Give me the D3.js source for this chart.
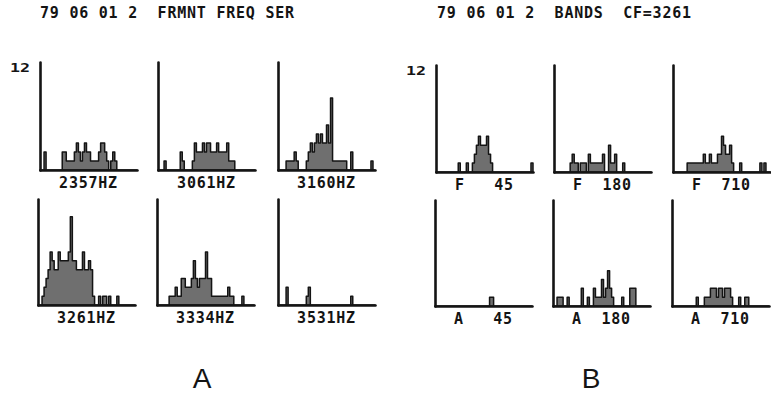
<!DOCTYPE html>
<html>
<head>
<meta charset="utf-8">
<script src="https://cdn.jsdelivr.net/npm/d3@7"></script>
<style>
  body { margin: 0; background: #fff; }
  text { white-space: pre; }
</style>
</head>
<body>
<svg id="chart" width="771" height="393"></svg>
<script>
// Count scale shared by every histogram (top of axis = 12)
const maxCount = 12;
const nBins = 48;

// Group A: formant frequency series, one histogram per centre frequency
const labelsA = ["2357HZ", "3061HZ", "3160HZ", "3261HZ", "3334HZ", "3531HZ"];
const hz2357 = [0,0,2,0,0,0,0,0,0,0, 0,2,2,1,1,1,1,2,3,2, 1,2,3,2,2,1,1,1,1,2, 3,3,2,1,0,1,2,1,0,0, 0,0,0,0,0,0,0,0];
const hz3061 = [0,0,0,1,0,0,0,0,0,0, 0,2,1,0,0,0,0,1,3,2, 2,2,3,2,3,3,2,2,2,3, 2,2,2,2,3,1,1,1,0,0, 0,0,0,0,0,0,0,0];
const hz3160 = [0,0,0,0,1,1,1,1,2,1, 0,0,0,0,1,2,3,2,3,4, 3,4,3,3,5,3,8,1,1,1, 1,1,1,1,0,0,2,0,0,0, 0,0,0,0,0,0,1,0];
const hz3261 = [0,0,1,2,3,4,6,5,4,4, 6,5,5,5,5,6,10,5,5,4, 4,4,6,4,4,5,4,1,0,0, 1,0,1,1,0,1,0,0,0,1, 0,0,0,0,0,0,0,0];
const hz3334 = [0,0,0,0,0,0,1,1,1,2, 1,1,3,3,2,2,2,3,5,3, 2,3,3,3,6,3,3,1,1,1, 1,1,1,1,1,2,1,1,0,0, 0,0,1,0,0,0,0,0];
const hz3531 = [0,0,0,0,2,0,0,0,0,0, 0,0,0,0,1,2,0,0,0,0, 0,0,0,0,0,0,0,0,0,0, 0,0,0,0,0,0,1,0,0,0, 0,0,0,0,0,0,0,0];

// Group B: bands around CF=3261
const labelsB = ["F   45", "F  180", "F  710", "A   45", "A  180", "A  710"];
const bandF45  = [0,0,0,0,0,0,0,0,0,0, 0,1,0,0,0,1,0,0,1,2, 3,4,3,3,3,4,2,1,0,0, 0,0,0,0,0,0,0,0,0,0, 0,0,0,0,0,0,0,1];
const bandF180 = [0,0,0,0,0,0,0,0,1,2, 1,1,0,1,1,1,0,2,1,1, 1,1,1,1,2,0,0,3,1,1, 2,0,0,0,1,0,0,0,0,0, 0,0,0,0,0,0,0,0];
const bandF710 = [0,0,0,0,0,0,0,1,1,1, 1,1,1,1,1,2,1,1,2,1, 1,1,2,2,4,3,2,2,3,1, 0,0,0,1,0,0,0,0,0,0, 0,0,0,1,0,1,0,0];
const bandA45  = [0,0,0,0,0,0,0,0,0,0, 0,0,0,0,0,0,0,0,0,0, 0,0,0,0,0,0,0,1,1,0, 0,0,0,0,0,0,0,0,0,0, 0,0,0,0,0,0,0,0];
const bandA180 = [0,0,1,1,1,0,0,1,0,0, 0,0,0,0,2,0,0,1,0,0, 2,1,1,1,3,1,2,4,2,1, 0,0,0,0,1,0,0,0,2,2, 2,0,0,0,0,0,0,0];
const bandA710 = [0,0,0,0,0,0,0,0,0,0, 0,0,1,0,0,0,1,1,1,2, 2,2,1,2,2,1,2,2,2,1, 0,0,0,1,0,0,1,1,0,0, 0,0,0,0,0,0,0,0];

const titleA = "79 06 01 2  FRMNT FREQ SER";
const titleB = "79 06 01 2  BANDS  CF=3261";
const yTopLabel = "12";

// Panel frames: axis origin x, axis top y, baseline y
const panelW = 97;
const panels = [
  { x: 40,  top: 62,  base: 170, data: hz2357, label: labelsA[0], yLabel: true },
  { x: 158, top: 62,  base: 170, data: hz3061, label: labelsA[1] },
  { x: 278, top: 62,  base: 170, data: hz3160, label: labelsA[2] },
  { x: 38,  top: 199, base: 305, data: hz3261, label: labelsA[3] },
  { x: 157, top: 199, base: 305, data: hz3334, label: labelsA[4] },
  { x: 278, top: 199, base: 305, data: hz3531, label: labelsA[5] },
  { x: 436, top: 65,  base: 172, data: bandF45,  label: labelsB[0], yLabel: true },
  { x: 554, top: 65,  base: 172, data: bandF180, label: labelsB[1] },
  { x: 673, top: 65,  base: 172, data: bandF710, label: labelsB[2] },
  { x: 435, top: 200, base: 306, data: bandA45,  label: labelsB[3] },
  { x: 553, top: 200, base: 306, data: bandA180, label: labelsB[4] },
  { x: 672, top: 200, base: 306, data: bandA710, label: labelsB[5] }
];

const svg = d3.select("#chart");
const mono = "'DejaVu Sans Mono', 'Liberation Mono', monospace";
const ink = "#141414";

function plotText(sel, x, y, str, size, spacing) {
  return sel.append("text")
    .attr("x", x).attr("y", y)
    .attr("xml:space", "preserve")
    .attr("font-family", mono)
    .attr("font-weight", "bold")
    .attr("font-size", size)
    .attr("letter-spacing", spacing)
    .attr("fill", ink)
    .text(str);
}

// Headers
plotText(svg, 40, 18, titleA, 15, 0.77);
plotText(svg, 437, 18, titleB, 15, 0.77);

panels.forEach(p => {
  const g = svg.append("g");
  const x = d3.scaleLinear().domain([0, nBins]).range([p.x, p.x + panelW]);
  const y = d3.scaleLinear().domain([0, maxCount]).range([p.base, p.top]);

  // Histogram outline with stippled-grey fill
  const pts = p.data.map((v, i) => [i, v]).concat([[nBins, 0]]);
  const area = d3.area()
    .curve(d3.curveStepAfter)
    .x(d => x(d[0]))
    .y0(y(0))
    .y1(d => y(d[1]));
  g.append("path")
    .attr("d", area(pts))
    .attr("fill", "#6f6f6f")
    .attr("stroke", ink)
    .attr("stroke-width", 1.5)
    .attr("stroke-linejoin", "round");

  // Axes: plain lines, no ticks
  const yAxis = g.append("g")
    .attr("transform", `translate(${p.x},0)`)
    .call(d3.axisLeft(y).tickValues([]).tickSizeOuter(0));
  const xAxis = g.append("g")
    .attr("transform", `translate(0,${p.base})`)
    .call(d3.axisBottom(x).tickValues([]).tickSizeOuter(0));
  [yAxis, xAxis].forEach(a => a.select(".domain")
    .attr("stroke", ink)
    .attr("stroke-width", 2.6)
    .attr("stroke-linecap", "round"));

  // Panel label, centred under the axis
  const cx = p.x + panelW / 2;
  plotText(g, cx, p.base + 18, p.label, 15, 0.77)
    .attr("text-anchor", "middle");

  if (p.yLabel) {
    plotText(g, p.x - 30, p.top + 10, yTopLabel, 13, 0)
      .attr("textLength", 20)
      .attr("lengthAdjust", "spacingAndGlyphs");
  }
});

// Group letters
svg.append("text").attr("x", 202).attr("y", 388)
  .attr("text-anchor", "middle")
  .attr("font-family", "'Liberation Sans', Arial, sans-serif")
  .attr("font-size", 28).attr("fill", ink).text("A");
svg.append("text").attr("x", 591).attr("y", 388)
  .attr("text-anchor", "middle")
  .attr("font-family", "'Liberation Sans', Arial, sans-serif")
  .attr("font-size", 28).attr("fill", ink).text("B");
</script>
</body>
</html>
